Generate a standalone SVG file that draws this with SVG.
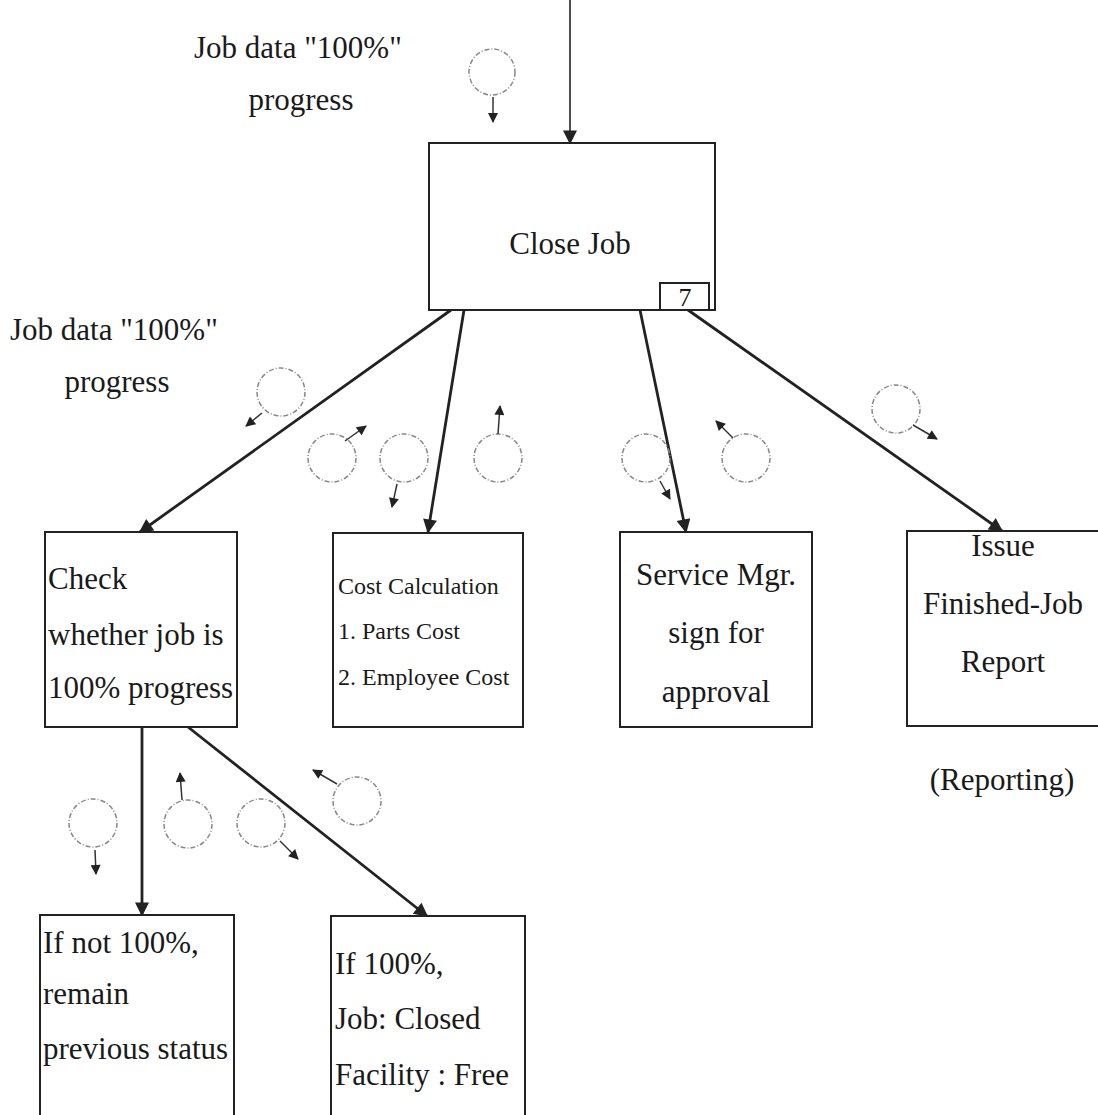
<svg xmlns="http://www.w3.org/2000/svg" width="1098" height="1115" viewBox="0 0 1098 1115">
  <defs>
    <marker id="headBig" viewBox="0 0 10 10" refX="9" refY="5" markerWidth="16" markerHeight="14" markerUnits="userSpaceOnUse" orient="auto">
      <path d="M0,0 L10,5 L0,10 z" fill="#222"/>
    </marker>
    <marker id="headSmall" viewBox="0 0 10 10" refX="9" refY="5" markerWidth="12" markerHeight="10" markerUnits="userSpaceOnUse" orient="auto">
      <path d="M0,0 L10,5 L0,10 z" fill="#222"/>
    </marker>
  </defs>
  <style>
    text { font-family: "Liberation Serif", "Times New Roman", serif; fill: #1a1a1a; }
    .big { font-size: 31px; }
    .small { font-size: 24px; }
    .mid { text-anchor: middle; }
    .box { fill: #fff; stroke: #222; stroke-width: 2; }
    .link { stroke: #222; stroke-width: 2.8; fill: none; marker-end: url(#headBig); }
    .couple { fill: none; stroke: #888; stroke-width: 1.5; stroke-dasharray: 5 2 1 2; }
    .flag { stroke: #333; stroke-width: 1.5; fill: none; marker-end: url(#headSmall); }
  </style>
  <rect width="1098" height="1115" fill="#fff"/>

  <!-- free labels -->
  <text class="big" x="194" y="58">Job data "100%"</text>
  <text class="big mid" x="301" y="110">progress</text>
  <text class="big" x="10" y="340">Job data "100%"</text>
  <text class="big mid" x="117" y="392">progress</text>
  <text class="big mid" x="1002" y="790">(Reporting)</text>

  <!-- connectors -->
  <g id="connectors">
    <line x1="570" y1="0" x2="570" y2="143" stroke="#222" stroke-width="1.6" marker-end="url(#headBig)"/>
    <line class="link" x1="451" y1="310" x2="140" y2="532"/>
    <line class="link" x1="464" y1="310" x2="428" y2="532"/>
    <line class="link" x1="640" y1="310" x2="686" y2="532"/>
    <line class="link" x1="688" y1="310" x2="1002" y2="531"/>
    <line class="link" x1="142" y1="727" x2="142" y2="915"/>
    <line class="link" x1="188" y1="727" x2="427" y2="916"/>
  </g>

  <!-- data couples -->
  <g id="couples">
    <circle class="couple" cx="492" cy="72" r="23"/>
    <line class="flag" x1="493" y1="97" x2="493" y2="122"/>

    <circle class="couple" cx="281" cy="392" r="24"/>
    <line class="flag" x1="262" y1="413" x2="246" y2="426"/>

    <circle class="couple" cx="332" cy="458" r="24"/>
    <line class="flag" x1="345" y1="441" x2="366" y2="426"/>

    <circle class="couple" cx="404" cy="458" r="24"/>
    <line class="flag" x1="397" y1="484" x2="392" y2="507"/>

    <circle class="couple" cx="498" cy="458" r="24"/>
    <line class="flag" x1="498" y1="434" x2="500" y2="406"/>

    <circle class="couple" cx="646" cy="458" r="24"/>
    <line class="flag" x1="660" y1="481" x2="670" y2="499"/>

    <circle class="couple" cx="746" cy="458" r="24"/>
    <line class="flag" x1="733" y1="438" x2="716" y2="421"/>

    <circle class="couple" cx="896" cy="409" r="24"/>
    <line class="flag" x1="913" y1="425" x2="937" y2="439"/>

    <circle class="couple" cx="93" cy="823" r="24"/>
    <line class="flag" x1="95" y1="850" x2="96" y2="874"/>

    <circle class="couple" cx="188" cy="824" r="24"/>
    <line class="flag" x1="182" y1="800" x2="180" y2="773"/>

    <circle class="couple" cx="261" cy="823" r="24"/>
    <line class="flag" x1="280" y1="841" x2="298" y2="859"/>

    <circle class="couple" cx="357" cy="801" r="24"/>
    <line class="flag" x1="337" y1="784" x2="313" y2="770"/>
  </g>

  <!-- process boxes -->
  <g id="close-job">
    <rect class="box" x="429" y="143" width="286" height="167"/>
    <text class="big mid" x="570" y="254">Close Job</text>
    <path d="M660,310 V283 H709 V310" fill="none" stroke="#222" stroke-width="2"/>
    <text class="mid" x="685" y="306" font-size="26">7</text>
  </g>

  <g id="check-progress">
    <rect class="box" x="45" y="532" width="192" height="195"/>
    <text class="big" x="48" y="589">Check</text>
    <text class="big" x="48" y="645">whether job is</text>
    <text class="big" x="48" y="698">100% progress</text>
  </g>

  <g id="cost-calculation">
    <rect class="box" x="333" y="533" width="190" height="194"/>
    <text class="small" x="338" y="594">Cost Calculation</text>
    <text class="small" x="338" y="639">1. Parts Cost</text>
    <text class="small" x="338" y="685">2. Employee Cost</text>
  </g>

  <g id="service-mgr">
    <rect class="box" x="620" y="532" width="192" height="195"/>
    <text class="big mid" x="716" y="585">Service Mgr.</text>
    <text class="big mid" x="716" y="643">sign for</text>
    <text class="big mid" x="716" y="702">approval</text>
  </g>

  <g id="issue-report">
    <rect class="box" x="907" y="531" width="200" height="195"/>
    <text class="big mid" x="1003" y="556">Issue</text>
    <text class="big mid" x="1003" y="614">Finished-Job</text>
    <text class="big mid" x="1003" y="672">Report</text>
  </g>

  <g id="not-complete">
    <rect class="box" x="40" y="915" width="194" height="203"/>
    <text class="big" x="43" y="953">If not 100%,</text>
    <text class="big" x="43" y="1004">remain</text>
    <text class="big" x="43" y="1059">previous status</text>
  </g>

  <g id="complete">
    <rect class="box" x="331" y="916" width="194" height="202"/>
    <text class="big" x="335" y="974">If 100%,</text>
    <text class="big" x="335" y="1029">Job: Closed</text>
    <text class="big" x="335" y="1085">Facility : Free</text>
  </g>
</svg>
